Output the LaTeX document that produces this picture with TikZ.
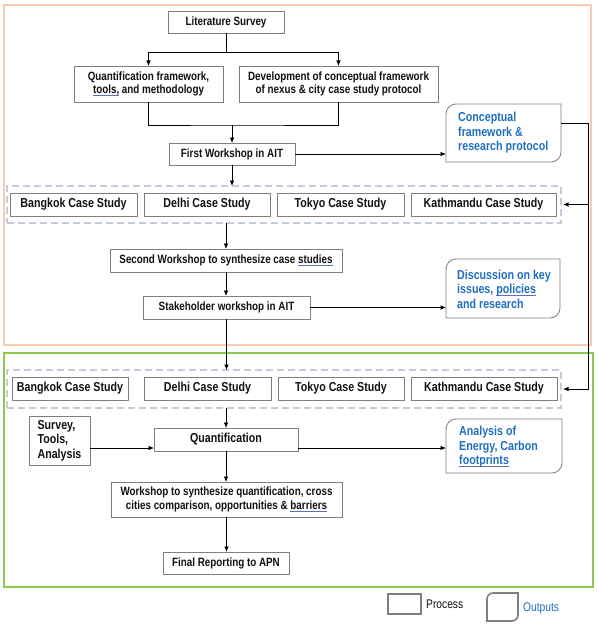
\documentclass[tikz,border=0pt]{standalone}
\usepackage{fontspec}
\setmainfont{Liberation Sans}[FakeStretch=0.82]
\usetikzlibrary{arrows.meta,calc}
\definecolor{boxgray}{HTML}{7F7F7F}
\definecolor{outblue}{HTML}{1F6FC0}
\definecolor{framorange}{HTML}{F8CBAD}
\definecolor{framgreen}{HTML}{8FC74F}
\definecolor{grpblue}{HTML}{C3CCDC}
\definecolor{splblue}{HTML}{5A70C0}
\definecolor{ink}{HTML}{111111}
\newcommand\spl[1]{\setbox0=\hbox{#1}\rlap{\textcolor{splblue}{\rule[-2.2pt]{\wd0}{0.7pt}}}\box0\relax}
\newcommand\diagframe[3][]{\draw[#1] ([yshift=-#3]#2.north west) arc[start angle=180,end angle=90,radius=#3] -- (#2.north east) -- ([yshift=#3]#2.south east) arc[start angle=0,end angle=-90,radius=#3] -- (#2.south west) -- cycle;}
\tikzset{
  proc/.style={draw=boxgray, line width=0.8pt, fill=white, inner sep=2pt, outer sep=0pt, text=ink, font=\fontsize{12}{13.3}\selectfont\bfseries, align=center},
  big/.style={font=\fontsize{13}{14.5}\selectfont\bfseries},
  outbox/.style={draw=none, inner sep=0pt, outer sep=0pt},
  outline/.style={draw=boxgray, line width=0.8pt, fill=white},
  outtext/.style={text=outblue, font=\fontsize{13}{14.4}\selectfont\bfseries, align=left, inner sep=0pt, anchor=west},
  grp/.style={draw=grpblue, line width=2.6pt, dash pattern=on 7pt off 4pt, inner sep=0pt, outer sep=0pt},
  arr/.style={draw=black, line width=0.75pt, -{Latex[length=5.5pt,width=4.5pt]}},
  conn/.style={draw=black, line width=0.75pt},
  bigframe/.style={line width=2pt},
  legbox/.style={draw=boxgray, line width=1.6pt, inner sep=0pt, outer sep=0pt},
  legline/.style={draw=boxgray, line width=1.6pt},
  legtext/.style={font=\fontsize{12.5}{13}\selectfont, inner sep=0pt, anchor=west}
}
\begin{document}
\begin{tikzpicture}[x=1pt,y=-1pt]
\path[use as bounding box] (0,0) rectangle (598,626);
% frames
\draw[bigframe, draw=framorange] (4,5) rectangle (591,345);
\draw[bigframe, draw=framgreen] (4,353) rectangle (593,587);

% ---------- upper part ----------
\node[proc, minimum width=116pt, minimum height=22pt] (lit) at (226,22) {Literature Survey};
\node[proc, minimum width=149pt, minimum height=36pt] (quant) at (148.5,84) {Quantification framework,\\\spl{tools,} and methodology};
\node[proc, minimum width=199pt, minimum height=36pt] (dev) at (338.5,84) {Development of conceptual framework\\of nexus \& city case study protocol};
\node[proc, minimum width=126pt, minimum height=22pt] (first) at (232,154) {First Workshop in AIT};

\node[outbox, minimum width=115pt, minimum height=58pt] (concept) at (503.5,133) {};
\diagframe[outline]{concept}{10pt}
\node[outtext] (concepttxt) at (458,133) {Conceptual\\framework \&\\research protocol};

\node[grp, minimum width=554pt, minimum height=37pt] (grp1) at (284,204.5) {};
\node[proc, big, minimum width=127pt, minimum height=23pt] (bkk1) at (73.5,204.5) {Bangkok Case Study};
\node[proc, big, minimum width=126pt, minimum height=23pt] (del1) at (207,204.5) {Delhi Case Study};
\node[proc, big, minimum width=127pt, minimum height=23pt] (tok1) at (340.5,204.5) {Tokyo Case Study};
\node[proc, big, minimum width=145pt, minimum height=23pt] (kat1) at (483.5,204.5) {Kathmandu Case Study};

\node[proc, minimum width=232pt, minimum height=23pt] (second) at (226,260.5) {Second Workshop to synthesize case \spl{studies}};
\node[proc, minimum width=167pt, minimum height=23pt] (stake) at (226.5,307.5) {Stakeholder workshop in AIT};

\node[outbox, minimum width=114pt, minimum height=59pt] (disc) at (503,288.5) {};
\diagframe[outline]{disc}{10pt}
\node[outtext] (disctxt) at (457,289) {Discussion on key\\issues, \spl{policies}\\and research};

% ---------- lower part ----------
\node[grp, minimum width=554pt, minimum height=38pt] (grp2) at (284,389) {};
\node[proc, big, minimum width=116pt, minimum height=23pt] (bkk2) at (70,388.5) {Bangkok Case Study};
\node[proc, big, minimum width=127pt, minimum height=23pt] (del2) at (207.5,388.5) {Delhi Case Study};
\node[proc, big, minimum width=126pt, minimum height=23pt] (tok2) at (341,388.5) {Tokyo Case Study};
\node[proc, big, minimum width=146pt, minimum height=23pt] (kat2) at (484,388.5) {Kathmandu Case Study};

\node[proc, big, align=left, minimum width=61pt, minimum height=49pt] (survey) at (59.5,440.5) {Survey,\\Tools,\\Analysis};
\node[proc, big, minimum width=144pt, minimum height=23pt] (quantif) at (226,439.5) {Quantification};

\node[outbox, minimum width=116pt, minimum height=54pt] (analysis) at (504,446) {};
\diagframe[outline]{analysis}{10pt}
\node[outtext] (analysistxt) at (459,447) {Analysis of\\Energy, Carbon\\\spl{footprints}};

\node[proc, minimum width=231pt, minimum height=35pt] (workshop) at (226.5,499.5) {Workshop to synthesize quantification, cross\\cities comparison, opportunities \& \spl{barriers}};
\node[proc, minimum width=126pt, minimum height=22pt] (final) at (226,563) {Final Reporting to APN};

% ---------- legend ----------
\node[legbox, minimum width=33pt, minimum height=20pt] (legp) at (404.5,604) {};
\node[legtext, text=ink] (legptxt) at (426,604) {Process};
\node[outbox, minimum width=31pt, minimum height=28pt] (lego) at (502.5,607) {};
\diagframe[legline]{lego}{6pt}
\node[legtext, text=outblue] (legotxt) at (523,608) {Outputs};

% ---------- connectors ----------
\coordinate (split) at (226,52);
\coordinate (merge) at (232,125);
\coordinate (rt) at (588,123);
\coordinate (qy) at (0,448);
\draw[conn] (lit.south) -- (lit.south |- split);
\draw[arr] (split) -| (quant.north);
\draw[arr] (split) -| (dev.north);
\draw[conn] (quant.south) |- (merge) -| (dev.south);
\draw[arr] (merge) -- (first.north);
\draw[arr] (first.east) -- (concept.west |- first.east);
\draw[arr] (first.south) -- (grp1.north -| first.south);
\draw[arr] (concept.east |- rt) -- (rt) |- ([xshift=2pt]grp2.east);
\draw[arr] (rt |- grp1.east) -- ([xshift=2pt]grp1.east);
\draw[arr] (grp1.south -| second.north) -- (second.north);
\draw[arr] (second.south) -- (second.south |- stake.north);
\draw[arr] (stake.east) -- (disc.west |- stake.east);
\draw[arr] (stake.south) -- (stake.south |- grp2.north);
\draw[arr] (grp2.south -| quantif.north) -- (quantif.north);
\draw[arr] (survey.east |- qy) -- (quantif.west |- qy);
\draw[arr] (quantif.east |- qy) -- (analysis.west |- qy);
\draw[arr] (quantif.south) -- (quantif.south |- workshop.north);
\draw[arr] (workshop.south) -- (workshop.south |- final.north);
\end{tikzpicture}
\end{document}
